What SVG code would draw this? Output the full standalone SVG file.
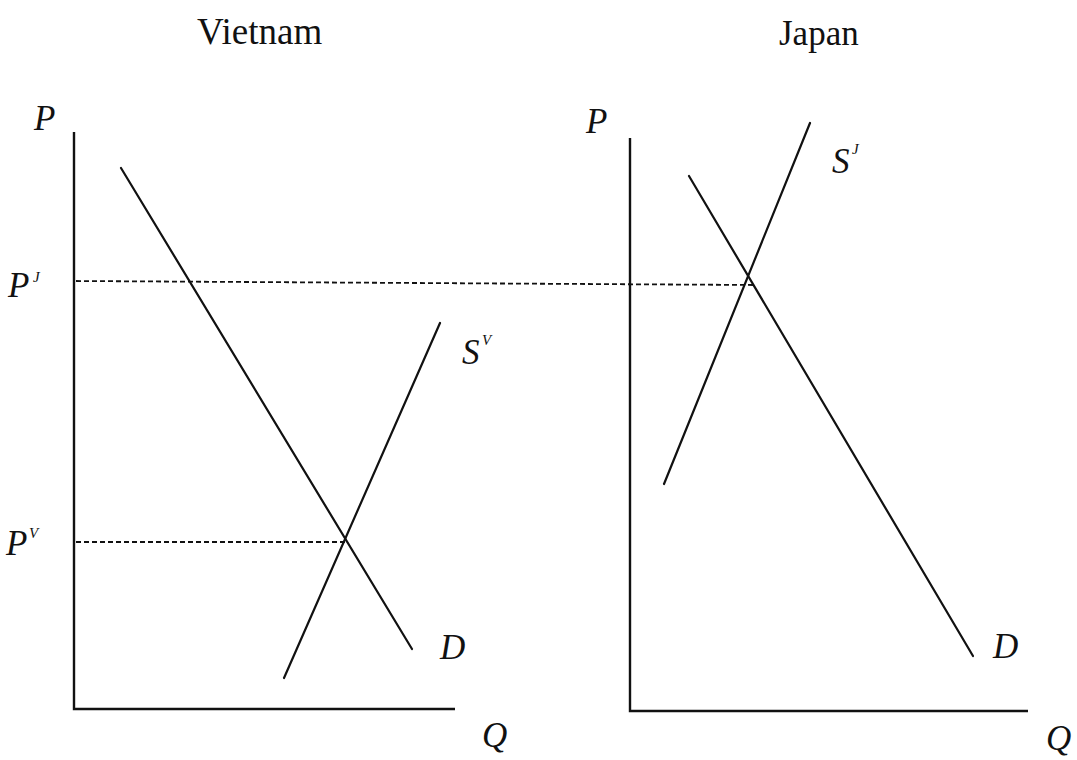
<svg xmlns="http://www.w3.org/2000/svg" width="1077" height="760" viewBox="0 0 1077 760">
<style>
.ln{stroke:#111;stroke-width:2.2;fill:none;stroke-linecap:round}
.ax{stroke:#111;stroke-width:2.4;fill:none}
.ds{stroke:#111;stroke-width:1.8;fill:none;stroke-dasharray:5,3}
.t{font-family:"Liberation Serif",serif;fill:#111}
.i{font-family:"Liberation Serif",serif;font-style:italic;fill:#111;font-size:35px}
.sup{font-family:"Liberation Serif",serif;font-style:italic;fill:#111;font-size:15px}
</style>
<rect width="1077" height="760" fill="#fff"/>
<g id="titles">
<text class="t" x="197" y="44" font-size="37">Vietnam</text>
<text class="t" x="779" y="45" font-size="35">Japan</text>
</g>
<g id="axes">
<path class="ax" d="M74,132 V709 H455"/>
<path class="ax" d="M630,138 V711 H1028"/>
</g>
<g id="labels">
<text class="i" x="34" y="130">P</text>
<text class="i" x="586" y="133">P</text>
<text class="i" x="8" y="297">P</text><text class="sup" x="33" y="282">J</text>
<text class="i" x="6" y="555">P</text><text class="sup" x="29" y="538">V</text>
<text class="i" x="462" y="364">S</text><text class="sup" x="482" y="345">V</text>
<text class="i" x="832" y="173">S</text><text class="sup" x="852" y="154">J</text>
<text class="i" x="440" y="659">D</text>
<text class="i" x="993" y="658">D</text>
<text class="i" x="482" y="747">Q</text>
<text class="i" x="1046" y="750">Q</text>
</g>
<g id="connectors">
<line class="ln" x1="121" y1="168" x2="412" y2="649"/>
<line class="ln" x1="284" y1="678" x2="440" y2="323"/>
<line class="ln" x1="689" y1="176" x2="973" y2="656"/>
<line class="ln" x1="664" y1="484" x2="810" y2="123"/>
<line class="ds" x1="76" y1="281" x2="756" y2="285"/>
<line class="ds" x1="76" y1="542" x2="345" y2="542"/>
</g>
</svg>
